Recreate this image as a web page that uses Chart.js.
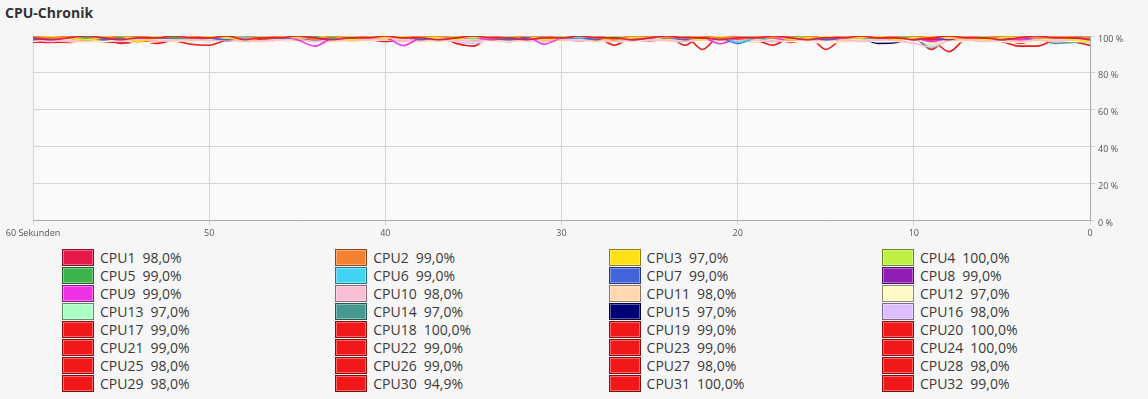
<!DOCTYPE html>
<html lang="de">
<head>
<meta charset="utf-8">
<title>CPU-Chronik</title>
<script src="https://cdn.jsdelivr.net/npm/chart.js@4"></script>
<style>
  html, body {
    margin: 0;
    padding: 0;
    background: #f6f6f6;
    width: 1148px;
    height: 399px;
    overflow: hidden;
    font-family: "Open Sans", "Noto Sans", sans-serif;
  }
  .title {
    position: absolute;
    left: 5px;
    top: 3px;
    font-size: 14px;
    font-weight: bold;
    color: #333;
  }
  .chart-box {
    position: absolute;
    left: 0;
    top: 0;
    width: 1148px;
    height: 245px;
  }
  .legend-item {
    position: absolute;
    display: flex;
    align-items: center;
    height: 17px;
    font-size: 14px;
    color: #3a3a3a;
    white-space: nowrap;
  }
  .swatch {
    box-sizing: border-box;
    width: 32px;
    height: 17px;
    margin-right: 6px;
    border: 1px solid;
  }
  .value {
    margin-left: 7px;
  }
</style>
</head>
<body>
<div class="title">CPU-Chronik</div>
<div class="chart-box"><canvas id="cpuChart" width="1148" height="245"></canvas></div>
<div id="legend"></div>
<script>
// one value per second, oldest (60 s ago) first, newest last
const cpu01 = [99,98,99,100,99,98,99,99,100,99, 99,100,98,99,99,100,99,98,99,99, 100,99,99,98,99,100,99,99,98,99, 99,100,99,99,98,99,100,99,99,98, 99,99,100,99,98,99,99,100,99,99, 98,99,100,99,99,98,99,100,99,99, 98];
const cpu02 = [100,99,100,100,99,100,100,99,100,100, 99,100,100,99,100,100,98,100,99,100, 100,99,100,100,99,100,100,99,100,100, 99,100,100,98,100,100,99,100,100,99, 100,100,99,100,100,99,100,100,99,100, 100,99,100,100,99,100,100,99,100,100, 99];
const cpu03 = [99,100,99,98,99,100,97,99,100,99, 100,99,98,99,100,99,99,100,98,99, 99,100,99,99,98,100,99,99,100,98, 99,100,99,98,99,99,100,99,98,100, 99,99,100,98,99,100,99,99,100,98, 99,100,99,99,98,99,100,99,99,98, 97];
const cpu04 = [100,100,99,100,100,100,99,100,100,100, 100,99,100,100,100,100,99,100,100,100, 99,100,100,100,100,99,100,100,100,100, 100,100,99,100,100,100,100,99,100,100, 100,100,100,99,100,100,100,100,99,100, 100,100,99,100,100,100,99,100,100,100, 100];
const cpu05 = [99,100,100,99,100,99,100,100,99,100, 100,99,100,100,99,100,100,99,100,99, 100,100,99,100,100,99,100,99,100,100, 99,100,100,99,100,100,99,100,100,99, 100,99,100,100,99,100,100,99,100,100, 99,100,100,99,100,99,100,100,99,100, 99];
const cpu06 = [100,99,100,99,100,100,99,100,100,99, 100,100,99,100,99,100,100,99,100,100, 99,100,100,99,100,100,99,100,100,99, 100,99,100,100,99,100,100,99,100,100, 96.5,99,100,100,99,100,99,100,100,99, 100,100,99,100,100,99,100,100,99,100, 99];
const cpu07 = [98,99,100,99,98,99,100,99,99,100, 99,98,99,100,99,99,98,99,100,99, 99,100,98,99,99,100,99,98,99,100, 99,99,98,100,99,99,100,98,99,99, 96,99,100,99,99,98,99,100,99,99, 98,99,99,100,99,98,99,99,100,99, 99];
const cpu08 = [100,100,99,100,100,99,100,100,100,99, 100,99,100,100,99,100,100,100,99,100, 100,100,99,100,100,100,99,100,100,99, 100,100,100,99,100,100,99,100,100,100, 99,100,100,99,100,100,100,99,100,100, 100,99,98,100,100,99,100,100,99,100, 99];
const cpu09 = [99,100,99,98,99,100,99,99,100,99, 99,100,99,99,100,98,94.5,99,100,99, 99,94.8,99,100,99,99,98,99,100,95.5, 99,100,99,99,98,99,100,99,99,95.8, 99,100,99,98,99,100,99,99,100,99, 99,97,99,100,99,99,98,99,100,99, 99];
const cpu10 = [97.5,98,97,98,98.5,97.5,98,97,98,98, 97.5,98,97,97.5,98,98,97,98,97.5,98, 98,97,98,97.5,98,97,98,98,97.5,97, 98,97.5,98,97,98,98,97.5,97,98,98, 97.5,98,97,98,98,97.5,98,97,98,97.5, 96,94,97.5,98,97,98,97.5,98,97,98, 98];
const cpu11 = [98,99,98,97,98,99,98,98,97,98, 99,98,98,97,98,99,98,97,98,98, 99,98,97,98,98,99,98,97,98,99, 98,98,97,98,99,98,98,97,98,98, 99,98,97,98,98,99,97,98,98,99, 98,97,98,98,99,98,97,98,98,99, 98];
const cpu12 = [97,98,97,96.5,97,98,96,97,98,97, 97,98,97,96.5,98,97,97,98,96.5,97, 98,97,97,96.5,98,97,97,98,97,96.5, 97,98,97,97,96.5,98,97,97,98,97, 96.5,97,98,97,97,96,97,98,97,97, 98,96,97,97,98,97,96.5,97,98,97, 97];
const cpu13 = [98,99,98,98,97,98,99,98,98,97, 98,99,98,97,98,98,99,98,97,98, 98,99,98,97,98,98,99,98,97,98, 99,98,97,98,98,99,98,97,98,98, 99,98,97,98,98,99,98,98,97,98, 99,95,98,97,98,99,98,97,98,98, 97];
const cpu14 = [99,100,99,99,98,99,100,99,99,98, 99,100,99,99,98,99,100,99,99,98, 99,100,99,98,99,99,100,99,98,99, 100,99,99,98,99,100,99,99,98,99, 100,99,98,99,99,100,99,98,99,100, 99,93.5,99,100,99,98,99,99,96,96.5, 97];
const cpu15 = [100,100,100,99,100,100,100,100,99,100, 100,100,100,100,99,100,100,100,100,99, 100,100,100,100,99,100,100,100,100,100, 99,100,100,100,100,100,99,100,100,100, 100,99,100,100,100,100,100,99,96,96.5, 99.5,100,100,99,100,100,100,99,100,100, 97];
const cpu16 = [98,97,98,99,98,97,98,98,99,98, 97,98,98,99,98,97,98,98,99,97, 98,98,99,98,97,96,98,99,98,97, 98,98,99,98,97,98,98,99,98,97, 97,98,99,98,97,98,98,99,98,97, 98,99,98,97,98,98,99,98,97,98, 98];
const cpu17 = [97,96.5,97,98,97,96.5,97,98,97.5,95.5, 95,98,99,100,99,98,99,100,99,99, 100,99,98,99,100,99,99,100,98,99, 100,99,99,100,98,99,100,99,99,100, 99,98,99,100,99,99,100,99,98,99, 100,99,99,100,99,98,99,100,99,99, 99];
const cpu18 = [99,100,100,99,100,100,99,100,100,99, 100,100,99,100,100,99,100,100,99,100, 100,99,100,100,96,94.5,100,99,100,100, 99,100,100,99,100,100,99,100,100,99, 100,100,99,100,100,99,100,100,99,100, 100,99,100,100,99,100,100,99,100,100, 100];
const cpu19 = [98,97.5,98,99,98,97,98,99,98,98, 99,98,98,99,98,97.5,98,99,98,98, 99,98,98,99,98,98,99,98,98,99, 99,98,99,95,99,99,98,99,99,98, 99,99,98,99,99,98,99,99,98,99, 99,98,99,99,98,99,99,98,99,99, 99];
const cpu20 = [100,99,100,100,99,100,100,99,100,100, 99,100,100,99,100,100,99,100,100,99, 100,100,99,100,100,99,100,100,99,100, 100,99,100,100,99,100,100,95,100,100, 99,100,100,99,100,100,99,100,100,99, 100,100,99,100,100,99,100,100,99,100, 100];
const cpu21 = [99,100,99,99,100,99,99,100,99,99, 100,99,99,100,99,99,100,99,99,100, 99,99,100,99,99,100,99,99,100,99, 99,100,99,99,100,99,99,100,92.7,100, 99,99,100,99,99,100,99,99,100,99, 99,100,99,99,100,99,99,100,99,99, 99];
const cpu22 = [98,99,98,98,99,98,98,99,98,98, 99,98,98,99,98,98,99,98,98,99, 98,98,99,98,98,99,98,98,99,98, 98,99,98,98,99,98,98,99,98,98, 99,98,95,99,98,98,99,98,98,99, 98,98,99,98,98,99,98,98,99,98, 99];
const cpu23 = [100,99,99,100,99,99,100,99,99,100, 99,99,100,99,99,100,99,99,100,99, 99,100,99,99,100,99,99,100,99,99, 100,99,99,100,99,99,100,99,99,100, 99,99,100,96.5,99,100,99,99,100,99, 99,100,99,99,100,99,99,100,99,99, 99];
const cpu24 = [100,100,99,100,100,100,99,100,100,100, 99,100,100,100,99,100,100,100,99,100, 100,100,99,100,100,100,99,100,100,100, 99,100,100,100,99,100,100,100,99,100, 100,100,99,100,100,92.7,99,100,100,100, 99,100,100,100,99,100,100,100,99,100, 100];
const cpu25 = [99,98,99,99,98,99,99,98,99,99, 98,99,99,98,99,99,98,99,99,98, 99,99,98,99,99,98,99,99,98,99, 99,98,99,99,98,99,99,98,99,99, 98,99,99,98,99,99,98,99,99,98, 99,92.7,99,98,99,99,98,99,99,98, 98];
const cpu26 = [100,99,100,100,99,100,99,100,100,99, 100,100,99,100,99,100,100,99,100,100, 99,100,100,99,100,100,99,100,99,100, 100,99,100,100,99,100,100,99,100,99, 100,100,99,100,100,99,100,99,100,100, 99,98,91.5,99,100,100,99,100,100,99, 99];
const cpu27 = [98,99,98,98,99,98,97,98,99,98, 98,99,98,97,98,99,98,98,99,98, 97,98,99,98,98,99,98,97,98,99, 98,98,99,98,97,98,99,98,98,99, 98,97,98,99,98,98,99,98,97,98, 99,98,98,99,98,97,94.5,94.5,98,99, 98];
const cpu28 = [97.5,97,98,97.5,97,97.5,98,97,97.5,98, 98,97.5,98,98.5,98,97.5,98,98.5,98,98, 98.5,98,97.5,98,98.5,98,97.5,98,98.5,98, 98,97.5,98,98.5,98,97.5,98,98.5,98,97.5, 98,98.5,98,97.5,98,98.5,98,97.5,98,98.5, 98,97.5,98,98.5,98,97.5,98,98.5,98,98, 98];
const cpu29 = [96.5,97,96.5,97.5,98,96,97,98,98.5,98, 99,98.5,98,99,98.5,98,99,98.5,98,99, 98.5,98,99,98.5,98,99,98.5,98,99,98.5, 98,99,98.5,98,99,98.5,98,99,98.5,98, 99,98.5,98,99,98.5,98,99,98.5,98,99, 98.5,98,99,98.5,98,99,98.5,98,99,98.5, 98];
const cpu30 = [99,100,99,99,100,99,100,100,99,99, 100,99,99,100,100,99,100,99,99,100, 99,100,100,99,99,100,99,100,99,99, 100,99,100,99,99,100,100,99,100,99, 99,100,99,100,100,99,99,100,99,100, 99,99,100,99,100,99,100,99,99,97, 94.9];
const cpu31 = [100,100,100,99,100,100,100,100,99,100, 100,100,100,100,99,100,100,100,100,99, 100,100,99,100,100,100,100,99,100,100, 100,99,100,100,100,100,99,100,100,100, 100,100,99,100,100,100,100,99,100,100, 100,99,100,100,100,99,100,100,100,100, 100];
const cpu32 = [98,98.5,97.5,98,99,98.5,98,96,98,99, 98.5,99,98,98.5,99,98,98.5,99,98,98.5, 99,98,98.5,99,98,98.5,99,98,98.5,97, 98,98.5,99,98,98.5,99,98,98.5,99,98, 98.5,99,98,98.5,99,98,98.5,99,98,98.5, 99,98,98.5,99,98,98.5,96,98,98.5,99, 99];

const cpuSeries = [cpu01, cpu02, cpu03, cpu04, cpu05, cpu06, cpu07, cpu08,
  cpu09, cpu10, cpu11, cpu12, cpu13, cpu14, cpu15, cpu16,
  cpu17, cpu18, cpu19, cpu20, cpu21, cpu22, cpu23, cpu24,
  cpu25, cpu26, cpu27, cpu28, cpu29, cpu30, cpu31, cpu32];

const cpuNames = cpuSeries.map((_, i) => `CPU${i + 1}`);

const cpuColors = [
  "#e6194b", "#f58231", "#ffe119", "#bfef45",
  "#3cb44b", "#42d4f4", "#4363d8", "#911eb4",
  "#f032e6", "#fabed4", "#ffd8b1", "#fffac8",
  "#aaffc3", "#469990", "#000075", "#dcbeff",
  "#f01818", "#f01818", "#f01818", "#f01818",
  "#f01818", "#f01818", "#f01818", "#f01818",
  "#f01818", "#f01818", "#f01818", "#f01818",
  "#f01818", "#f01818", "#f01818", "#f01818",
];

const xTicks = [60, 50, 40, 30, 20, 10, 0];
const yTicks = [0, 20, 40, 60, 80, 100];

const plotBackground = {
  id: "plotBackground",
  beforeDraw(chart) {
    const { ctx, chartArea } = chart;
    ctx.save();
    ctx.fillStyle = "#fafafa";
    ctx.fillRect(chartArea.left, chartArea.top, chartArea.right - chartArea.left, chartArea.bottom - chartArea.top);
    ctx.restore();
  },
};

function darken(hex, f) {
  const n = parseInt(hex.slice(1), 16);
  const r = Math.round(((n >> 16) & 255) * f);
  const g = Math.round(((n >> 8) & 255) * f);
  const b = Math.round((n & 255) * f);
  return `rgb(${r}, ${g}, ${b})`;
}

function formatLoad(v) {
  return v.toFixed(1).replace(".", ",") + "%";
}

function renderLegend() {
  const legend = document.getElementById("legend");
  cpuSeries.forEach((series, i) => {
    const col = i % 4;
    const row = Math.floor(i / 4);
    const item = document.createElement("div");
    item.className = "legend-item";
    item.style.left = `${62 + col * 273.3}px`;
    item.style.top = `${249 + row * 18}px`;

    const swatch = document.createElement("span");
    swatch.className = "swatch";
    swatch.style.background = cpuColors[i];
    swatch.style.borderColor = darken(cpuColors[i], 0.55);
    swatch.style.boxShadow = "inset 0 0 0 1px rgba(255,255,255,0.35)";

    const name = document.createElement("span");
    name.textContent = cpuNames[i];

    const value = document.createElement("span");
    value.className = "value";
    value.textContent = formatLoad(series[series.length - 1]);

    item.append(swatch, name, value);
    legend.append(item);
  });
}

function renderChart() {
  const datasets = cpuSeries.map((series, i) => ({
    label: cpuNames[i],
    data: series.map((v, j) => ({ x: series.length - 1 - j, y: v })),
    borderColor: cpuColors[i],
    borderWidth: 1.6,
    pointRadius: 0,
    fill: false,
    cubicInterpolationMode: "monotone",
  }));

  const tickFont = { family: "'Open Sans', 'Noto Sans', sans-serif", size: 9 };

  new Chart(document.getElementById("cpuChart"), {
    type: "line",
    data: { datasets },
    plugins: [plotBackground],
    options: {
      responsive: false,
      animation: false,
      events: [],
      layout: { padding: { left: 33, top: 36, right: 0, bottom: 0 } },
      plugins: { legend: { display: false }, tooltip: { enabled: false } },
      scales: {
        x: {
          type: "linear",
          reverse: true,
          min: 0,
          max: 60,
          afterBuildTicks: (s) => { s.ticks = xTicks.map((v) => ({ value: v })); },
          afterFit: (s) => { s.height = 25; },
          grid: { color: "#d4d4d4", tickLength: 5 },
          border: { color: "#a9a9a9" },
          ticks: {
            font: tickFont,
            color: "#555",
            padding: 3,
            maxRotation: 0,
            callback: (v) => (v === 60 ? "60 Sekunden" : String(v)),
          },
        },
        y: {
          position: "right",
          min: 0,
          max: 100,
          afterBuildTicks: (s) => { s.ticks = yTicks.map((v) => ({ value: v })); },
          afterFit: (s) => { s.width = 58; },
          grid: { color: "#d4d4d4", tickLength: 5 },
          border: { color: "#a9a9a9" },
          ticks: {
            font: tickFont,
            color: "#555",
            padding: 3,
            labelOffset: 3,
            callback: (v) => `${v} %`,
          },
        },
      },
    },
  });
}

renderLegend();
renderChart();
</script>
</body>
</html>
